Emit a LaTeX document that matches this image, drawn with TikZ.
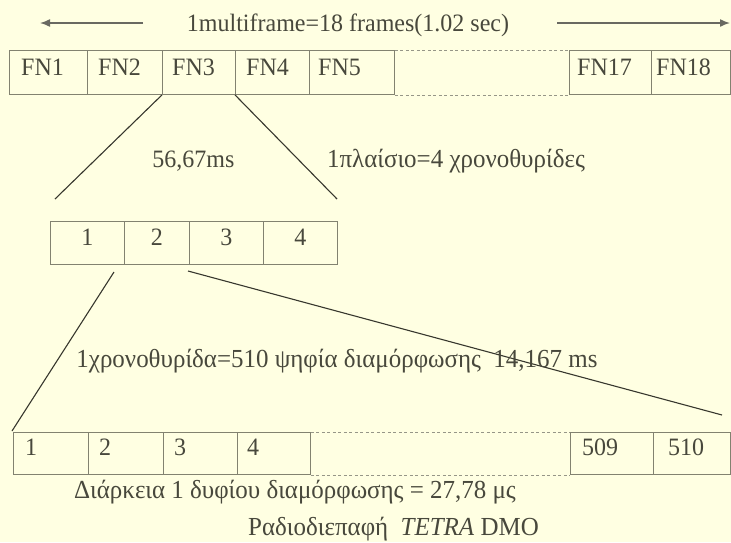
\documentclass[tikz,border=0pt]{standalone}
\usepackage{fontspec}
\setmainfont[FakeStretch=0.96]{Liberation Serif}
\usetikzlibrary{arrows.meta}
\definecolor{bg}{RGB}{255,255,226}
\definecolor{ink}{RGB}{72,72,60}
\definecolor{boxline}{RGB}{130,130,112}
\definecolor{diag}{RGB}{55,55,45}
\definecolor{dotc}{RGB}{150,150,135}
\begin{document}
\begin{tikzpicture}[x=1pt,y=-1pt,
  cell/.style={draw=boxline, line width=0.9pt, inner sep=0pt, anchor=north west},
  toprow/.style={cell, minimum height=44pt},
  midrow/.style={cell, minimum height=43pt},
  botrow/.style={cell, minimum height=42pt},
  txt/.style={text=ink, font=\fontsize{25}{29}\selectfont, inner sep=0pt},
  gtxt/.style={text=ink, font=\fontsize{26}{30}\selectfont, inner sep=0pt, anchor=base},
  lbl/.style={txt, anchor=base west},
  clbl/.style={txt, anchor=base},
  dotline/.style={draw=dotc, line width=0.8pt, dash pattern=on 3pt off 2.5pt},
  fan/.style={draw=diag, line width=1.1pt},
  arr/.style={draw=diag!75, line width=1.5pt, -{Latex[length=10pt,width=8pt]}}
]
\useasboundingbox (0,0) rectangle (731,542);
\fill[bg] (0,0) rectangle (731,542);

% title with arrows
\node[clbl] (title) at (348,31) {1multiframe=18 frames(1.02 sec)};
\coordinate (al1) at (143,23);
\coordinate (al2) at (40,23);
\coordinate (ar1) at (557,23);
\coordinate (ar2) at (730,23);
\draw[arr] (al1) -- (al2);
\draw[arr] (ar1) -- (ar2);

% top row
\node[toprow, minimum width=78pt] (fn1) at (9,50) {};
\node[toprow, minimum width=75pt] (fn2) at (87,50) {};
\node[toprow, minimum width=73pt] (fn3) at (162,50) {};
\node[toprow, minimum width=74pt] (fn4) at (235,50) {};
\node[toprow, minimum width=85pt] (fn5) at (309,50) {};
\node[toprow, minimum width=82pt] (fn17) at (569,50) {};
\node[toprow, minimum width=79pt] (fn18) at (651,50) {};
\draw[dotline] (fn5.north east) -- (fn17.north west);
\draw[dotline] (fn5.south east) -- (fn17.south west);
\node[lbl] (tfn1) at (21,75) {FN1};
\node[lbl] (tfn2) at (98,75) {FN2};
\node[lbl] (tfn3) at (172,75) {FN3};
\node[lbl] (tfn4) at (246,75) {FN4};
\node[lbl] (tfn5) at (318,75) {FN5};
\node[lbl] (tfn17) at (577,75) {FN17};
\node[lbl] (tfn18) at (656,75) {FN18};

% fan to middle row
\coordinate (m1) at (55,199);
\coordinate (m2) at (337,199);
\draw[fan] (fn3.south west) -- (m1);
\draw[fan] (fn4.south west) -- (m2);
\node[clbl] (dur1) at (193.5,167) {56,67ms};
\node[gtxt] (frame) at (456,167) {1πλαίσιο=4 χρονοθυρίδες};

% middle row
\node[midrow, minimum width=74pt] (s1) at (50,221) {};
\node[midrow, minimum width=65pt] (s2) at (124,221) {};
\node[midrow, minimum width=74pt] (s3) at (189,221) {};
\node[midrow, minimum width=74pt] (s4) at (263,221) {};
\node[clbl] (ts1) at (s1.center |- 0,245) {1};
\node[clbl] (ts2) at (s2.center |- 0,245) {2};
\node[clbl] (ts3) at (s3.center |- 0,245) {3};
\node[clbl] (ts4) at (s4.center |- 0,245) {4};

% fan to bottom row
\coordinate (f1) at (114,272);
\coordinate (f2) at (12,431);
\coordinate (f3) at (188,271);
\coordinate (f4) at (722,415);
\draw[fan] (f1) -- (f2);
\draw[fan] (f3) -- (f4);
\node[gtxt] (slot) at (337,367) {1χρονοθυρίδα=510 ψηφία διαμόρφωσης\ \ 14,167 ms};

% bottom row
\node[botrow, minimum width=75pt] (b1) at (13,432) {};
\node[botrow, minimum width=75pt] (b2) at (88,432) {};
\node[botrow, minimum width=74pt] (b3) at (163,432) {};
\node[botrow, minimum width=73pt] (b4) at (237,432) {};
\node[botrow, minimum width=83pt] (b509) at (570,432) {};
\node[botrow, minimum width=77pt] (b510) at (653,432) {};
\draw[dotline] (b4.north east) -- (b509.north west);
\draw[dotline] (b4.south east) -- (b509.south west);
\node[lbl] (tb1) at (25,455) {1};
\node[lbl] (tb2) at (99,455) {2};
\node[lbl] (tb3) at (174,455) {3};
\node[lbl] (tb4) at (247,455) {4};
\node[lbl] (tb509) at (582,455) {509};
\node[lbl] (tb510) at (668,455) {510};

\node[gtxt] (bit) at (295,498) {Διάρκεια 1 δυφίου διαμόρφωσης = 27,78 μς};
\node[gtxt] (cap) at (393.5,535) {Ραδιοδιεπαφή\ \ \textit{TETRA} DMO};
\end{tikzpicture}
\end{document}
